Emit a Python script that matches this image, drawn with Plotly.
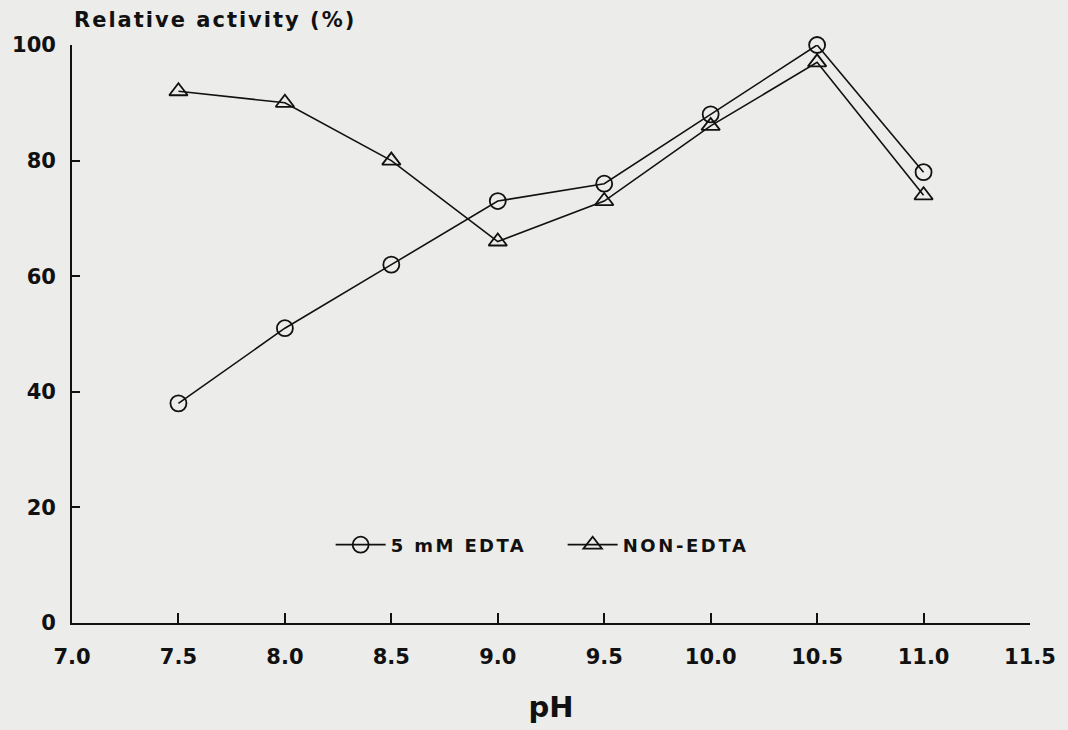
import plotly.graph_objects as go

# pH values tested
ph = [7.5, 8.0, 8.5, 9.0, 9.5, 10.0, 10.5, 11.0]

# Relative activity (%) for each condition
edta_5mm = [38, 51, 62, 73, 76, 88, 100, 78]
non_edta = [92, 90, 80, 66, 73, 86, 97, 74]

x_ticks = [7.0, 7.5, 8.0, 8.5, 9.0, 9.5, 10.0, 10.5, 11.0, 11.5]
x_tick_text = ["7.0", "7.5", "8.0", "8.5", "9.0", "9.5", "10.0", "10.5", "11.0", "11.5"]
y_ticks = [0, 20, 40, 60, 80, 100]

paper = "#ececea"
ink = "#111111"
font_family = "DejaVu Sans, Liberation Sans, Arial, sans-serif"


def spaced(text, px):
    """Bold text with extra tracking between letters."""
    return f'<span style="letter-spacing:{px}px"><b>{text}</b></span>'


fig = go.Figure()

fig.add_trace(go.Scatter(
    x=ph, y=edta_5mm, name=spaced("5 mM EDTA", 2.4),
    mode="lines+markers", cliponaxis=False,
    line=dict(color=ink, width=1.6),
    marker=dict(symbol="circle-open", size=16, color=ink, line=dict(width=1.8)),
))

fig.add_trace(go.Scatter(
    x=ph, y=non_edta, name=spaced("NON-EDTA", 2.6),
    mode="lines+markers", cliponaxis=False,
    line=dict(color=ink, width=1.6),
    marker=dict(symbol="triangle-up-open", size=16, color=ink, line=dict(width=1.8)),
))

fig.update_layout(
    width=1068, height=730,
    paper_bgcolor=paper, plot_bgcolor=paper,
    margin=dict(l=70, r=35, t=45, b=107),
    font=dict(family=font_family, color=ink),
    showlegend=True,
    legend=dict(
        orientation="h",
        x=0.27, y=0.135, xanchor="left", yanchor="middle",
        bgcolor="rgba(0,0,0,0)",
        font=dict(size=18, color=ink),
        itemwidth=50,
        entrywidth=167,
    ),
    xaxis=dict(
        range=[7.0, 11.5],
        tickmode="array", tickvals=x_ticks, ticktext=x_tick_text,
        ticks="inside", ticklen=10, tickwidth=1.5, tickcolor=ink,
        showline=True, linecolor=ink, linewidth=1.8,
        showgrid=False, zeroline=False,
        tickfont=dict(size=21, color=ink, family=font_family, weight="bold"),
        ticklabelstandoff=14,
        title=dict(text="<b>pH</b>", font=dict(size=29, color=ink), standoff=29),
    ),
    yaxis=dict(
        range=[0, 100],
        tickmode="array", tickvals=y_ticks,
        ticks="inside", ticklen=8, tickwidth=1.5, tickcolor=ink,
        showline=True, linecolor=ink, linewidth=1.8,
        showgrid=False, zeroline=False,
        tickfont=dict(size=21, color=ink, family=font_family, weight="bold"),
        ticklabelstandoff=10,
    ),
    annotations=[
        dict(
            text=spaced("Relative activity (%)", 2.0),
            xref="paper", yref="paper", x=0.0, y=1.043,
            xanchor="left", yanchor="middle", showarrow=False,
            font=dict(size=21, color=ink),
        )
    ],
)

fig.write_html("out.html")
